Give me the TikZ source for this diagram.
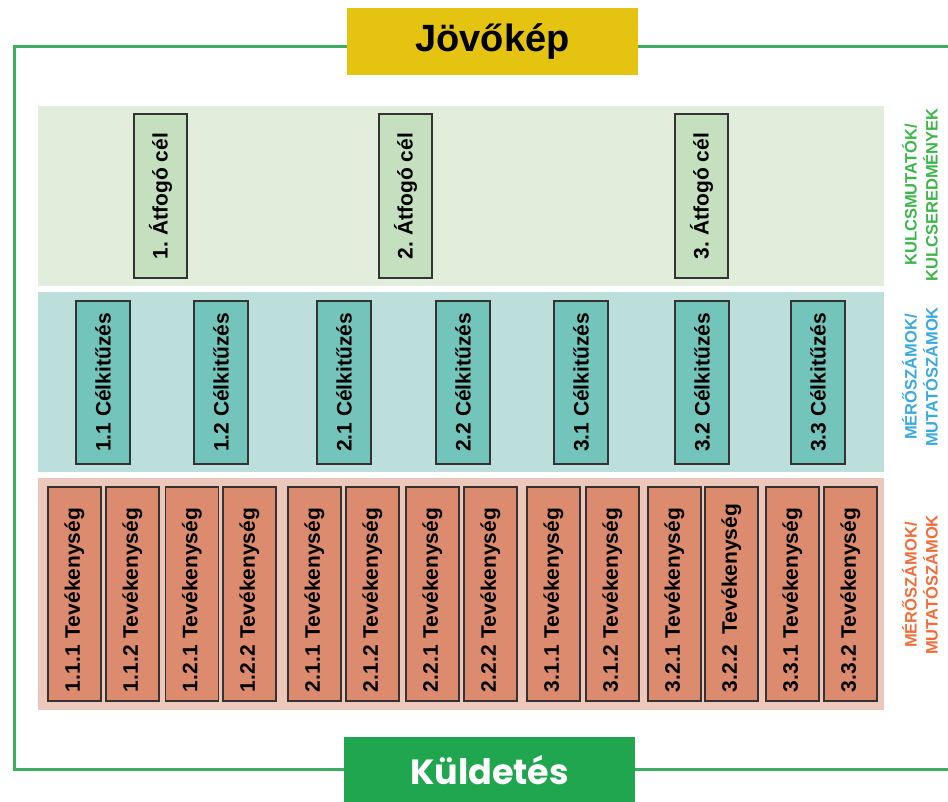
\documentclass[tikz,border=0pt]{standalone}
\usepackage{fontspec}
\setmainfont{Liberation Sans}
\newfontfamily\missionfont{Poppins}
\frenchspacing
\definecolor{framegreen}{HTML}{3DAD5F}
\definecolor{visionyellow}{HTML}{E4C411}
\definecolor{missiongreen}{HTML}{21A650}
\definecolor{bandgreen}{HTML}{E2EDDC}
\definecolor{bandteal}{HTML}{BCDFDC}
\definecolor{bandsalmon}{HTML}{EDC7BA}
\definecolor{goalgreen}{HTML}{C5E0BF}
\definecolor{objteal}{HTML}{73C5BB}
\definecolor{actsalmon}{HTML}{DC8B6F}
\definecolor{labelgreen}{HTML}{3DB54A}
\definecolor{labelblue}{HTML}{3AA9DD}
\definecolor{labelorange}{HTML}{F26C3B}
\begin{document}
\begin{tikzpicture}[x=1pt,y=-1pt,
    vbox/.style={draw=black!80, line width=1.5pt, rotate=90, inner sep=0pt,
        font=\bfseries\fontsize{21}{21}\selectfont},
    goalbox/.style={vbox, fill=goalgreen, minimum width=164pt, minimum height=53pt},
    objbox/.style={vbox, fill=objteal, minimum width=163pt, minimum height=54pt},
    actbox/.style={vbox, fill=actsalmon, minimum height=53pt, inner xsep=9pt,
        text width=196pt, align=left},
    sidelabel/.style={rotate=90, align=center, inner sep=0pt,
        font=\bfseries\fontsize{16.5}{21}\selectfont}]
    \useasboundingbox (0,0) rectangle (948,801);

    % frame
    \draw[framegreen, line width=3pt] (948,46) -- (14,46) -- (14,769) -- (948,769);

    % bands
    \fill[bandgreen] (38,106) rectangle (884,286);
    \fill[bandteal] (38,292) rectangle (884,472);
    \fill[bandsalmon] (38,478) rectangle (884,710);

    % vision and mission
    \node[fill=visionyellow, minimum width=291pt, minimum height=67pt,
        font=\bfseries\fontsize{38}{38}\selectfont] (vision) at (492.5,41.5) {Jövőkép};
    \node[fill=missiongreen, text=white, minimum width=291pt, minimum height=66pt,
        font=\missionfont\bfseries\fontsize{35}{35}\selectfont] (mission) at (489.5,770) {Küldetés};

    % goals
    \foreach \x/\n in {160.5/1, 405.5/2, 701.5/3}
        \node[goalbox] (goal\n) at (\x,196) {\n. Átfogó cél};

    % objectives
    \foreach \x/\n/\t in {103/11/1.1, 221/12/1.2, 344/21/2.1, 463/22/2.2,
                          581/31/3.1, 702/32/3.2, 818/33/3.3}
        \node[objbox] (obj\n) at (\x,382.5) {\t\ Célkitűzés};

    % activities
    \foreach \x/\n/\t in {74.5/111/1.1.1, 132.5/112/1.1.2, 192/121/1.2.1, 249.5/122/1.2.2,
                          314.5/211/2.1.1, 372.5/212/2.1.2, 432.5/221/2.2.1, 490.5/222/2.2.2,
                          553.5/311/3.1.1, 612.5/312/3.1.2, 674.5/321/3.2.1, 731.5/322/3.2.2\hspace{4pt},
                          792.5/331/3.3.1, 850.5/332/3.3.2}
        \node[actbox] (act\n) at (\x,594) {\t\ Tevékenység};

    % side labels
    \node[sidelabel, text=labelgreen] (kpilabel) at (920,195) {KULCSMUTATÓK/\\KULCSEREDMÉNYEK};
    \node[sidelabel, text=labelblue] (objlabel) at (920,377) {MÉRŐSZÁMOK/\\MUTATÓSZÁMOK};
    \node[sidelabel, text=labelorange] (actlabel) at (920,585) {MÉRŐSZÁMOK/\\MUTATÓSZÁMOK};
\end{tikzpicture}
\end{document}
